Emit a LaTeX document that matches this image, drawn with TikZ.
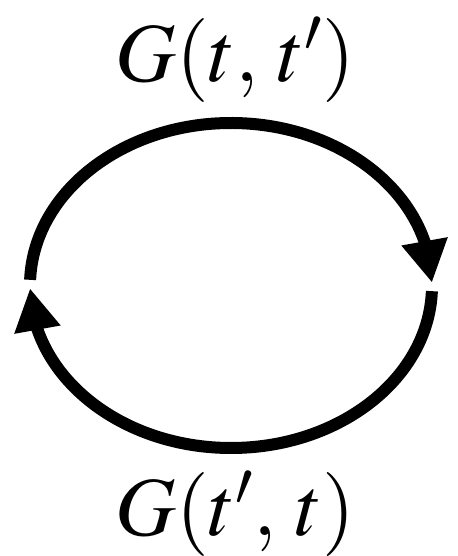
\documentclass[tikz,border=0pt]{standalone}
\usepackage{mathptmx}
\usetikzlibrary{arrows.meta,bending}
\begin{document}
\begin{tikzpicture}[x=0.5pt, y=0.5pt,
    prop/.style={line width=6pt, -{Triangle[length=21pt, width=22pt]}},
    lbl/.style={anchor=base, inner sep=0pt, font=\fontsize{42}{48}\selectfont}]
    \useasboundingbox (0,0) rectangle (457,556);

    \coordinate (west) at ([shift={(231,270.5)}]178:201 and 162.5);
    \coordinate (east) at ([shift={(231,270.5)}]-2:201 and 162.5);

    \node[lbl] (gforward) at (235.5,474) {$G(t,\,t')$};
    \node[lbl] (gbackward) at (235.5,20) {$G(t',\,t)$};

    \draw[prop] (west) arc[start angle=178, end angle=1, x radius=201, y radius=162.5];
    \draw[prop] (east) arc[start angle=-2, end angle=-179, x radius=201, y radius=162.5];
\end{tikzpicture}
\end{document}
